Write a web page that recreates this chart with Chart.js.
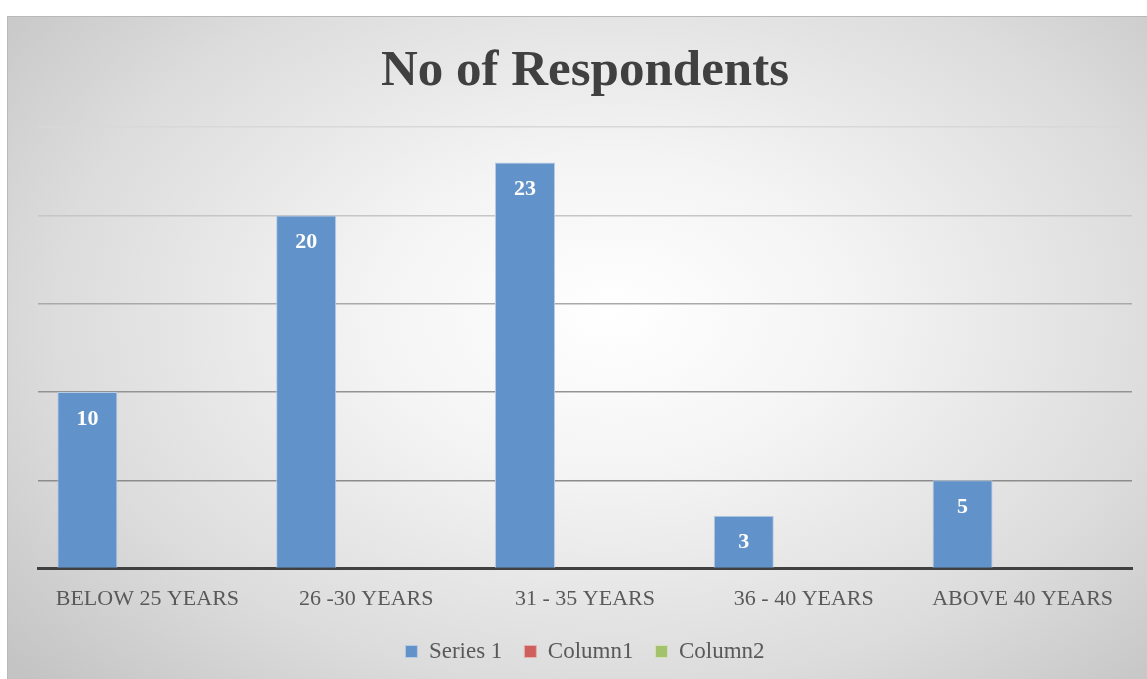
<!DOCTYPE html>
<html>
<head>
<meta charset="utf-8">
<script src="https://cdn.jsdelivr.net/npm/chart.js@4.4.1/dist/chart.umd.min.js"></script>
<style>
  html, body { margin: 0; padding: 0; background: #ffffff; }
  #frame {
    position: absolute; left: 7px; top: 16px; width: 1140px; height: 663px;
    border-top: 1px solid #b9b9b9; border-left: 1px solid #b9b9b9;
    box-sizing: border-box;
    background: radial-gradient(ellipse 70% 80% at 53% 45%, #ffffff 0%, #f4f4f4 30%, #dcdcdc 70%, #c4c4c4 100%);
  }
  #wrap { position: absolute; left: 0; top: 0; width: 1139px; height: 662px; }
</style>
</head>
<body>
<div id="frame"><div id="wrap"><canvas id="respChart"></canvas></div></div>
<script>
// age groups and respondent counts
const categories = ['BELOW 25 YEARS', '26 -30 YEARS', '31 - 35 YEARS', '36 - 40 YEARS', 'ABOVE 40 YEARS'];
const series1 = [10, 20, 23, 3, 5];
const column1 = [null, null, null, null, null];
const column2 = [null, null, null, null, null];
const yTicks = [0, 5, 10, 15, 20, 25];

const serif = "'Liberation Serif', 'DejaVu Serif', serif";

// gridlines fade out towards the top
const gridShades = { 0: '#404040', 5: '#8c8c8c', 10: '#939393', 15: '#a9a9a9', 20: '#c6c6c6', 25: '#d8d8d8' };

// white value text inside the top of each bar
const barValues = {
  id: 'barValues',
  afterDatasetsDraw(chart) {
    const ctx = chart.ctx;
    const meta = chart.getDatasetMeta(0);
    ctx.save();
    ctx.fillStyle = '#ffffff';
    ctx.font = 'bold 22px ' + serif;
    ctx.textAlign = 'center';
    ctx.textBaseline = 'middle';
    meta.data.forEach((bar, i) => {
      const v = chart.data.datasets[0].data[i];
      if (v == null) return;
      ctx.fillText(String(v), bar.x, bar.y + 27);
    });
    ctx.restore();
  }
};

new Chart('respChart', {
  type: 'bar',
  data: {
    labels: categories,
    datasets: [
      { label: 'Series 1', data: series1, backgroundColor: '#6192c9', borderColor: '#b8cbe4', borderWidth: 1 },
      { label: 'Column1', data: column1, backgroundColor: '#cd5f5c', borderColor: '#e5b0ae', borderWidth: 1 },
      { label: 'Column2', data: column2, backgroundColor: '#a3c26b', borderColor: '#d3e1b8', borderWidth: 1 }
    ]
  },
  options: {
    responsive: true,
    maintainAspectRatio: false,
    animation: false,
    categoryPercentage: 0.823,
    barPercentage: 1.0,
    layout: { padding: { left: 30, right: 15, top: 0, bottom: 6 } },
    scales: {
      x: {
        grid: { display: false },
        border: { display: true, color: '#404040', width: 3 },
        ticks: { color: '#595959', font: { family: serif, size: 22 }, padding: 9 },
        // pull the axis box in a little so the baseline sits lower
        afterFit(axis) { axis.height -= 3; }
      },
      y: {
        min: 0,
        max: 25,
        afterBuildTicks(axis) { axis.ticks = yTicks.map(v => ({ value: v })); },
        ticks: { display: false },
        border: { display: false },
        grid: {
          drawTicks: false,
          lineWidth: 1.5,
          color: c => gridShades[c.tick.value] || '#a0a0a0'
        }
      }
    },
    plugins: {
      title: {
        display: true,
        text: 'No of Respondents',
        color: '#404040',
        font: { family: serif, size: 51, weight: 'bold' },
        padding: { top: 24, bottom: 25 }
      },
      legend: {
        position: 'bottom',
        labels: {
          color: '#595959',
          font: { family: serif, size: 23 },
          boxWidth: 12,
          boxHeight: 12,
          padding: 22
        }
      },
      tooltip: { enabled: false }
    }
  },
  plugins: [barValues]
});
</script>
</body>
</html>
